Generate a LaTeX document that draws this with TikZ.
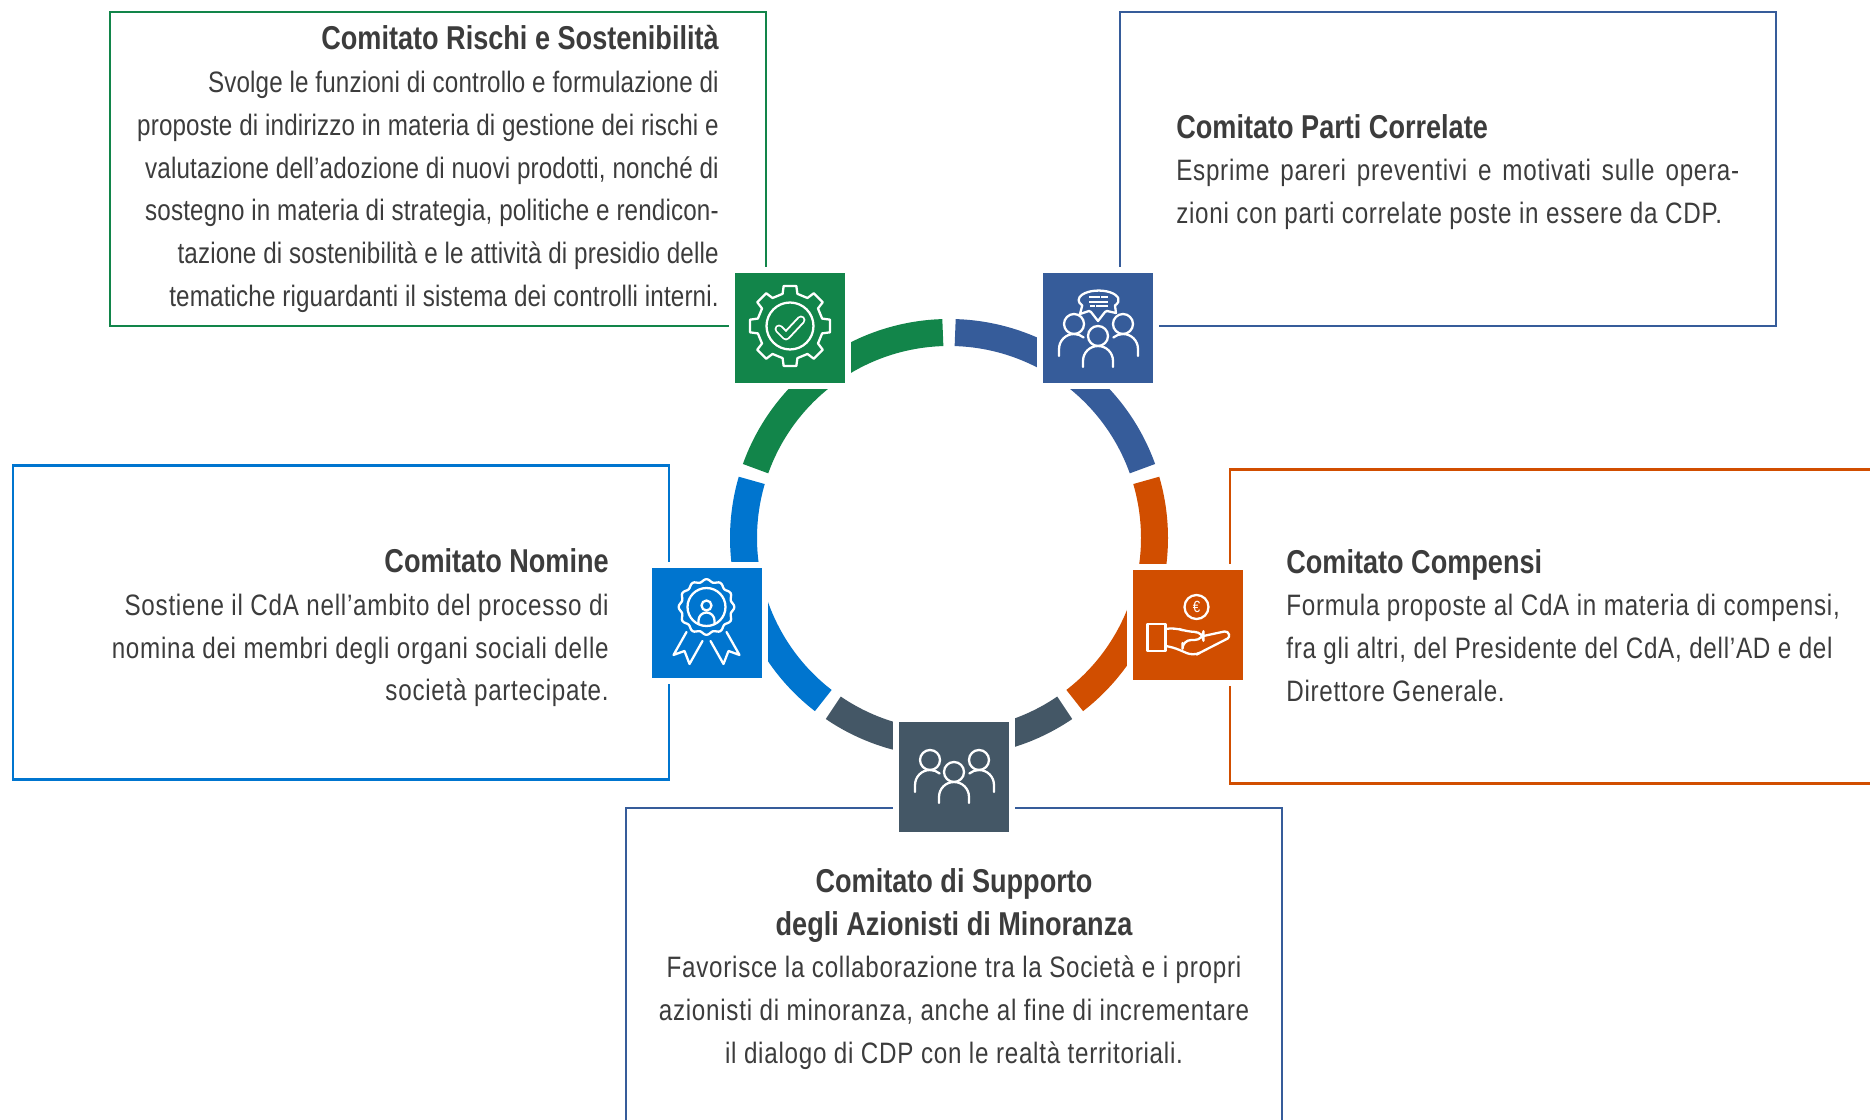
\documentclass[tikz,border=0pt]{standalone}
\usepackage{fontspec}
\setmainfont{Liberation Sans}[FakeStretch=0.82, LetterSpace=0.5]
\newfontfamily\spaziato{Liberation Sans}[FakeStretch=0.82, LetterSpace=2.5]
\newfontfamily\grassetto{Liberation Sans Bold}[FakeStretch=0.82]
\usepackage{tikz}
\usetikzlibrary{positioning}

\definecolor{verdeR}{HTML}{12854A}
\definecolor{bluP}{HTML}{365C9A}
\definecolor{azzurroN}{HTML}{0075CF}
\definecolor{arancioC}{HTML}{D14E00}
\definecolor{ardesiaS}{HTML}{445766}
\definecolor{scuro}{HTML}{3C3C3C}

\newcommand{\titolo}[1]{{\grassetto\fontsize{9.4}{12.15}\selectfont #1}}

% three people, shared by two of the icons
\newcommand{\trioPersone}{
    \draw[glyph] (-24,4) circle (10);
    \draw[glyph] (25,4) circle (10);
    \draw[glyph] (0,-8) circle (10);
    \draw[glyph] (-39,-28) -- (-39,-21) arc (180:50:15);
    \draw[glyph] (40,-28) -- (40,-21) arc (0:130:15);
    \draw[glyph] (-15,-39) -- (-15,-33) arc (180:0:15) -- (15,-39);
}

\begin{document}
\begin{tikzpicture}
    % Define styles
    \tikzset{
        box/.style={rectangle, draw, line width=0.8pt, minimum width=6.56cm, minimum height=3.14cm},
        icona/.style={rectangle, draw=white, line width=0.06cm, minimum size=1.16cm, inner sep=0pt},
        testo/.style={inner sep=0pt, text=scuro, font=\spaziato\fontsize{8.4}{12.15}\selectfont},
        testostretto/.style={inner sep=0pt, text=scuro, font=\fontsize{8.4}{12.15}\selectfont},
        anello/.style={line width=0.27cm},
        glyph/.style={draw=white, line width=0.65pt, line cap=round, line join=round},
        segno/.style={x=0.01cm, y=0.01cm}
    }
    \clip (0,0) rectangle (18.7,11.2);

    % Place boxes
    \node [box, draw=verdeR] (rischi) at (4.38,9.51) {};
    \node [box, draw=bluP] (parti) at (14.48,9.51) {};
    \node [box, draw=azzurroN] (nomine) at (3.41,4.975) {};
    \node [box, draw=arancioC] (compensi) at (15.58,4.935) {};
    \node [box, draw=bluP] (supporto) at (9.54,1.55) {};

    % Ring
    \coordinate (centro) at (9.49,5.82);
    \foreach \da/\a/\col in {18/90/bluP, 90/162/verdeR, 162/234/azzurroN, 234/306/ardesiaS, 306/378/arancioC}
        \draw [anello, draw=\col] ([shift={(\da+1.72:2.055)}]centro) arc (\da+1.72:\a-1.72:2.055);

    % Place icon squares
    \node [icona, fill=verdeR] (iconaR) at (7.9,7.92) {};
    \node [icona, fill=bluP] (iconaP) at (10.98,7.92) {};
    \node [icona, fill=azzurroN] (iconaN) at (7.065,4.97) {};
    \node [icona, fill=arancioC] (iconaC) at (11.875,4.95) {};
    \node [icona, fill=ardesiaS] (iconaS) at (9.54,3.43) {};

    % Gear
    \begin{scope}[shift={(iconaR.center)}, yshift=0.02cm, segno]
        \draw[glyph] (-13:33)
            \foreach \t in {0,45,...,315} { -- (\t-13:33) -- (\t-9:40.5) -- (\t+9:40.5) -- (\t+13:33) } -- cycle;
        \draw[glyph] (0,0) circle (23.5);
        \draw[glyph, double=verdeR, double distance=0.05cm, line width=0.55pt] (-11,-3) -- (-4,-10) -- (11,6);
    \end{scope}

    % People with speech bubble
    \begin{scope}[shift={(iconaP.center)}, segno]
        \trioPersone
        \draw[glyph] (17,22.5) arc (-35:215:20 and 9.5) -- (-18,14) -- (-9,17) -- (-7,16)
            -- (0,7) -- (7,16) -- (9,17) -- (18,15) -- cycle;
        \foreach \xa/\xb/\yy in {-8.7/1.7/31, 3/10/31, -9/10/26.3, -8.3/-3/22, -1.7/10/22}
            \fill[white] (\xa,\yy-1.1) rectangle (\xb,\yy+1.1);
    \end{scope}

    % Rosette
    \begin{scope}[shift={(iconaN.center)}, segno]
        \draw[glyph, shift={(0,16)}] plot[domain=0:360, samples=97, smooth] ({\x}:{26.5+1.4*cos(12*\x)}) -- cycle;
        \draw[glyph] (0,16) circle (19);
        \draw[glyph] (0,17.5) circle (5);
        \draw[glyph] (-8,-1) -- (-8,2.5) arc (180:0:8) -- (8,-1);
        \draw[glyph] (-20,-9) -- (-33,-32) -- (-22,-28) -- (-17,-41) -- (-4,-18);
        \draw[glyph] (20,-9) -- (33,-32) -- (22,-28) -- (17,-41) -- (4,-18);
    \end{scope}

    % Hand and coin
    \begin{scope}[shift={(iconaC.center)}, segno]
        \draw[glyph] (9,18) circle (12);
        \node [text=white, inner sep=0pt, font=\fontsize{4.6}{5}\selectfont] (euro) at (9,18) {€};
        \draw[glyph] (-40,1) rectangle (-22,-26);
        \draw[glyph, rounded corners=2.5pt] (-22,-4) -- (-13,-2.3) -- (0,-7) -- (16,-7) -- (16,-15)
            -- (-5,-15) -- (-5,-18);
        \draw[glyph] (16,-11) -- (37,-6.5) arc (100:-50:4) -- (9,-29.5);
        \draw[glyph, rounded corners=2pt] (9,-29.5) -- (6,-31) -- (-15,-22) -- (-22,-21);
    \end{scope}

    % People
    \begin{scope}[shift={(iconaS.center)}, yshift=0.13cm, segno]
        \trioPersone
    \end{scope}

    % Place texts
    \node [testostretto, align=right, anchor=east] (testoR) at ([xshift=-0.48cm,yshift=0cm]rischi.east) {\titolo{Comitato Rischi e Sostenibilità}\\
        Svolge le funzioni di controllo e formulazione di\\
        proposte di indirizzo in materia di gestione dei rischi e\\
        valutazione dell’adozione di nuovi prodotti, nonché di\\
        sostegno in materia di strategia, politiche e rendicon-\\
        tazione di sostenibilità e le attività di presidio delle\\
        tematiche riguardanti il sistema dei controlli interni.};
    \node [testo, align=left, anchor=west] (testoP) at ([xshift=0.57cm,yshift=-0.03cm]parti.west) {\titolo{Comitato Parti Correlate}\\
        \makebox[5.63cm][s]{Esprime pareri preventivi e motivati sulle opera-}\\
        zioni con parti correlate poste in essere da CDP.};
    \node [testo, align=right, anchor=east] (testoN) at ([xshift=-0.61cm,yshift=-0.055cm]nomine.east) {\titolo{Comitato Nomine}\\
        Sostiene il CdA nell’ambito del processo di\\
        nomina dei membri degli organi sociali delle\\
        società partecipate.};
    \node [testo, align=left, anchor=west] (testoC) at ([xshift=0.57cm,yshift=0.012cm]compensi.west) {\titolo{Comitato Compensi}\\
        Formula proposte al CdA in materia di compensi,\\
        fra gli altri, del Presidente del CdA, dell’AD e del\\
        Direttore Generale.};
    \node [testo, align=center] (testoS) at (9.54,1.51) {\titolo{Comitato di Supporto}\\
        \titolo{degli Azionisti di Minoranza}\\
        Favorisce la collaborazione tra la Società e i propri\\
        azionisti di minoranza, anche al fine di incrementare\\
        il dialogo di CDP con le realtà territoriali.};
\end{tikzpicture}
\end{document}
